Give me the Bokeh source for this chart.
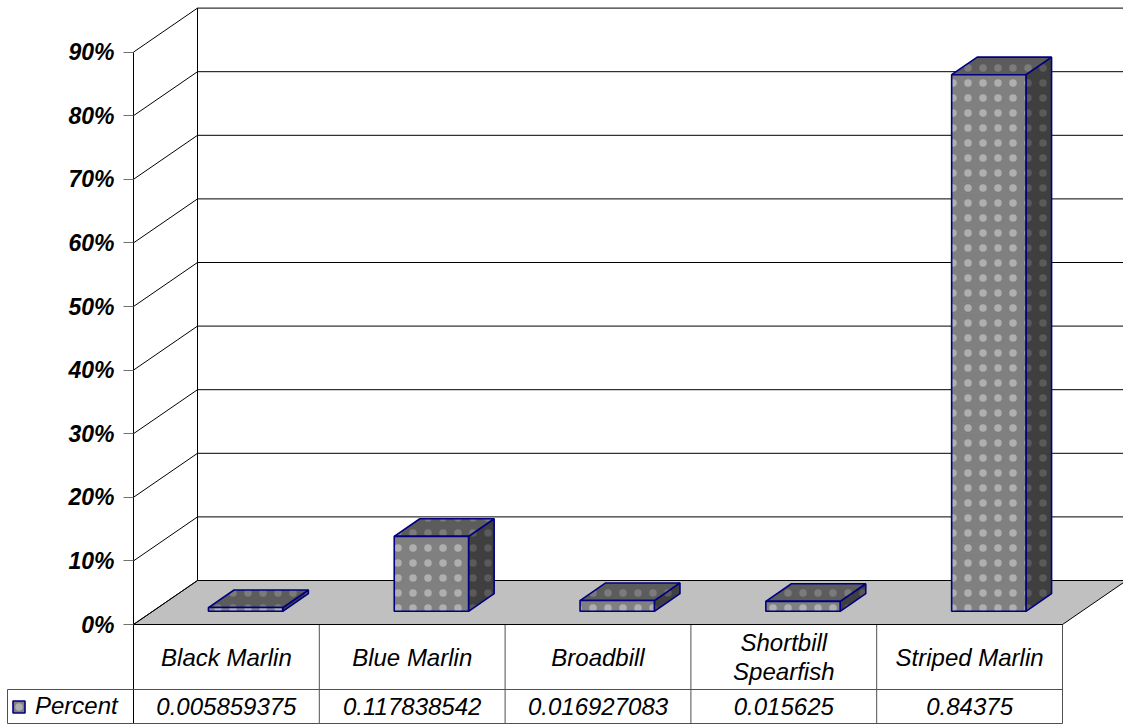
from bokeh.plotting import figure
from bokeh.models import (Range1d, LinearAxis, FixedTicker, NumeralTickFormatter,
                          Legend, LegendItem)
from bokeh.core.properties import value
from bokeh.embed import file_html
from bokeh.resources import INLINE

# ---- data -------------------------------------------------------------
categories = ["Black Marlin", "Blue Marlin", "Broadbill",
              "Shortbill\nSpearfish", "Striped Marlin"]
percent = [0.005859375, 0.117838542, 0.016927083, 0.015625, 0.84375]
tick_values = [0.0, 0.1, 0.2, 0.3, 0.4, 0.5, 0.6, 0.7, 0.8, 0.9]
series_name = "Percent"

# ---- layout (pixels) --------------------------------------------------
W, H = 1123, 724
COL_PX = 185.8      # width of one category column
UNIT_PX = 636.0     # height of 100 %
ORIGIN_X = 133      # screen x of the front value axis
ORIGIN_Y = 624      # screen y of the front 0 % edge
DEPTH_X_PX, DEPTH_Y_PX = 64, 44   # oblique depth of the 3-D box
ROW1_PX, ROW2_PX = 65, 99         # data table row boundaries below 0 %
LEGEND_CELL_PX = 126              # width of the series-key cell

FONT = "Liberation Sans"
NAVY = "#000080"

DX = DEPTH_X_PX / COL_PX
DY = DEPTH_Y_PX / UNIT_PX
T0, T1 = 0.3, 0.7     # bars occupy the middle of the depth
HALF = 0.2            # half bar width, in columns
ROW1 = -ROW1_PX / UNIT_PX
ROW2 = -ROW2_PX / UNIT_PX
KEY_LEFT = -LEGEND_CELL_PX / COL_PX

n = len(categories)
top_val = tick_values[-1]

p = figure(width=W, height=H, output_backend="svg", toolbar_location=None,
           x_range=Range1d(-ORIGIN_X / COL_PX, (W - ORIGIN_X) / COL_PX),
           y_range=Range1d(-(H - ORIGIN_Y) / UNIT_PX, ORIGIN_Y / UNIT_PX),
           x_axis_location=None, y_axis_location=None,
           min_border=0, outline_line_color=None,
           background_fill_color="white", border_fill_color="white")
p.xgrid.visible = False
p.ygrid.visible = False

# ---- value axis drawn on the front left edge ----------------------------
yaxis = LinearAxis(fixed_location=0,
                   ticker=FixedTicker(ticks=tick_values),
                   formatter=NumeralTickFormatter(format="0%"),
                   axis_line_color=None,
                   major_tick_in=0, major_tick_out=10,
                   major_tick_line_color="#707070",
                   minor_tick_line_color=None,
                   major_label_standoff=9,
                   major_label_text_font=FONT,
                   major_label_text_font_style="bold italic",
                   major_label_text_font_size="23px",
                   major_label_text_color="black")
p.add_layout(yaxis, "left")

# ---- walls and floor -----------------------------------------------------
# floor
p.patch([0, DX, n + DX, n], [0, DY, DY, 0],
        fill_color="#c0c0c0", line_color="black", line_width=1)
# back wall gridlines
p.segment(x0=[DX] * len(tick_values), y0=[t + DY for t in tick_values],
          x1=[n + DX] * len(tick_values), y1=[t + DY for t in tick_values],
          line_color="black", line_width=1)
# side wall gridlines
p.segment(x0=[0] * len(tick_values), y0=tick_values,
          x1=[DX] * len(tick_values), y1=[t + DY for t in tick_values],
          line_color="black", line_width=1)
# back wall left edge and front axis line (runs down through the table)
p.segment(x0=[DX, 0], y0=[DY, top_val], x1=[DX, 0], y1=[top_val + DY, ROW2],
          line_color="black", line_width=1)

# ---- 3-D columns ---------------------------------------------------------
cx = [i + 0.5 for i in range(n)]
fl = [c - HALF + T0 * DX for c in cx]
fr = [c + HALF + T0 * DX for c in cx]
dd_x = (T1 - T0) * DX
base0, base1 = T0 * DY, T1 * DY

side_xs = [[r, r + dd_x, r + dd_x, r] for r in fr]
side_ys = [[base0, base1, v + base1, v + base0] for v in percent]
top_xs = [[l, r, r + dd_x, l + dd_x] for l, r in zip(fl, fr)]
top_ys = [[v + base0, v + base0, v + base1, v + base1] for v in percent]

hatch = dict(hatch_pattern="dot", hatch_scale=15, hatch_weight=0.3)
p.patches(side_xs, side_ys, fill_color="#3f3f3f", line_color=NAVY,
          line_width=1.6, hatch_color="#7a7a7a", hatch_alpha=0.45, **hatch)
p.patches(top_xs, top_ys, fill_color="#5c5c5c", line_color=NAVY,
          line_width=1.6, hatch_color="#a0a0a0", hatch_alpha=0.45, **hatch)
front = p.quad(left=fl, right=fr, bottom=[base0] * n,
               top=[v + base0 for v in percent],
               fill_color="#808080", line_color=NAVY, line_width=1.6,
               hatch_color="#e8e8e8", hatch_alpha=0.45, **hatch)

# ---- data table ----------------------------------------------------------
grid_col = "#505050"
p.segment(x0=[KEY_LEFT, KEY_LEFT], y0=[ROW1, ROW2], x1=[n, n], y1=[ROW1, ROW2],
          line_color=grid_col, line_width=1)
p.segment(x0=list(range(1, n + 1)) + [KEY_LEFT], y0=[0] * n + [ROW1],
          x1=list(range(1, n + 1)) + [KEY_LEFT], y1=[ROW2] * (n + 1),
          line_color=grid_col, line_width=1)
p.segment(x0=[0], y0=[0], x1=[n], y1=[0], line_color="black", line_width=1)

text_style = dict(text_font=value(FONT), text_font_style="italic",
                  text_font_size="24px", text_color="black",
                  text_align="center", text_baseline="middle",
                  text_line_height=1.05)
p.text(x=cx, y=[ROW1 / 2] * n, text=categories, **text_style)
p.text(x=cx, y=[(ROW1 + ROW2) / 2] * n, text=[str(v) for v in percent],
       **text_style)

# series key in the first cell of the value row
legend = Legend(items=[LegendItem(label=series_name, renderers=[front])],
                location=(11, 4), orientation="vertical",
                border_line_color=None, background_fill_alpha=0,
                padding=0, margin=0, spacing=0,
                glyph_width=15, glyph_height=15, label_standoff=9,
                label_text_font=FONT, label_text_font_style="italic",
                label_text_font_size="24px", label_text_color="black")
p.add_layout(legend)

open("out.html", "w").write(file_html(p, INLINE))
